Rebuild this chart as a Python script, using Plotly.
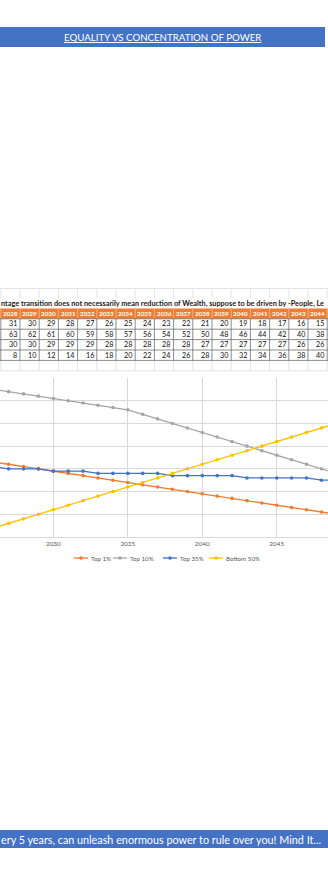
import plotly.graph_objects as go

W, H = 328, 870

# ---------------- data ----------------
table_years = [2028, 2029, 2030, 2031, 2032, 2033, 2034, 2035, 2036, 2037, 2038, 2039, 2040, 2041, 2042, 2043, 2044]
table_top1 = [31, 30, 29, 28, 27, 26, 25, 24, 23, 22, 21, 20, 19, 18, 17, 16, 15]
table_top10 = [63, 62, 61, 60, 59, 58, 57, 56, 54, 52, 50, 48, 46, 44, 42, 40, 38]
table_top35 = [30, 30, 29, 29, 29, 28, 28, 28, 28, 28, 27, 27, 27, 27, 27, 26, 26]
table_bottom50 = [8, 10, 12, 14, 16, 18, 20, 22, 24, 26, 28, 30, 32, 34, 36, 38, 40]

chart_years = [2026, 2027, 2028, 2029, 2030, 2031, 2032, 2033, 2034, 2035, 2036, 2037,
               2038, 2039, 2040, 2041, 2042, 2043, 2044, 2045, 2046, 2047, 2048, 2049]
top1 = [33, 32, 31, 30, 29, 28, 27, 26, 25, 24, 23, 22, 21, 20, 19, 18, 17, 16, 15, 14, 13, 12, 11, 10]
top10 = [65, 64, 63, 62, 61, 60, 59, 58, 57, 56, 54, 52, 50, 48, 46, 44, 42, 40, 38, 36, 34, 32, 30, 28]
top35 = [31, 30, 30, 30, 29, 29, 29, 28, 28, 28, 28, 28, 27, 27, 27, 27, 27, 26, 26, 26, 26, 26, 25, 25]
bottom50 = [4, 6, 8, 10, 12, 14, 16, 18, 20, 22, 24, 26, 28, 30, 32, 34, 36, 38, 40, 42, 44, 46, 48, 50]

series_names = ["Top 1%", "Top 10%", "Top 35%", "Bottom 50%"]
series_values = [top1, top10, top35, bottom50]
series_colors = ["#ED7D31", "#A5A5A5", "#4472C4", "#FFC000"]

title_text = "EQUALITY VS CONCENTRATION OF POWER"
table_note = "ntage transition does not necessarily mean reduction of Wealth, suppose to be driven by -People, Le"
footer_text = "ery 5 years, can unleash enormous power to rule over you! Mind It..."

FONT = "Lato"


def fx(x):
    return x / W


def fy(y):
    return 1 - y / H


fig = go.Figure()

# ---------------- chart ----------------
for name, vals, col in zip(series_names, series_values, series_colors):
    fig.add_trace(go.Scatter(
        x=chart_years, y=vals, name=name, mode="lines+markers",
        line=dict(color=col, width=1.3),
        marker=dict(color=col, size=3.6),
        cliponaxis=True,
    ))

plot_top, plot_bottom = 378, 537
fig.update_layout(
    width=W, height=H,
    margin=dict(l=0, r=0, t=0, b=0),
    paper_bgcolor="white", plot_bgcolor="white",
    showlegend=False,
    xaxis=dict(
        domain=[0, 1], range=[2026.42, 2048.44],
        tickvals=[2030, 2035, 2040, 2045], ticktext=["2030", "2035", "2040", "2045"],
        showgrid=True, gridcolor="#D9D9D9", gridwidth=1,
        showline=True, linecolor="#D9D9D9", linewidth=1,
        zeroline=False, ticks="",
        tickfont=dict(family=FONT, size=6.4, color="#595959"),
    ),
    yaxis=dict(
        domain=[fy(plot_bottom), fy(plot_top)], range=[0, 70], dtick=10,
        showgrid=True, gridcolor="#D9D9D9", gridwidth=1,
        showticklabels=False, zeroline=False, showline=False, ticks="",
    ),
)

shapes = []
annots = []

# ---------------- header bar ----------------
shapes.append(dict(type="rect", xref="paper", yref="paper", x0=fx(0), x1=fx(325), y0=fy(47), y1=fy(27),
                   fillcolor="#4472C4", line=dict(width=0), layer="above"))
annots.append(dict(xref="paper", yref="paper", x=fx(163), y=fy(37), text="<u>" + title_text + "</u>",
                   showarrow=False, xanchor="center", yanchor="middle",
                   font=dict(family=FONT, size=9.7, color="white")))

# ---------------- footer bar ----------------
shapes.append(dict(type="rect", xref="paper", yref="paper", x0=fx(0), x1=fx(328), y0=fy(848), y1=fy(830),
                   fillcolor="#4472C4", line=dict(width=0), layer="above"))
annots.append(dict(xref="paper", yref="paper", x=fx(0), y=fy(839), text=footer_text,
                   showarrow=False, xanchor="left", yanchor="middle", borderpad=0,
                   font=dict(family=FONT, size=10.8, color="white")))

# ---------------- table ----------------
col_x0, col_w = 0.8, 19.2
ncol = len(table_years)
faint_top, note_top, head_top, row_h = 288.5, 298.3, 308.4, 10.4

# faint excel grid rows
shapes.append(dict(type="line", xref="paper", yref="paper", x0=0, x1=1, y0=fy(faint_top), y1=fy(faint_top),
                   line=dict(color="#E3E3E3", width=1)))
for i in range(ncol + 1):
    xx = col_x0 + i * col_w
    shapes.append(dict(type="line", xref="paper", yref="paper", x0=fx(xx), x1=fx(xx), y0=fy(faint_top), y1=fy(note_top),
                       line=dict(color="#E3E3E3", width=1)))
    shapes.append(dict(type="line", xref="paper", yref="paper", x0=fx(xx), x1=fx(xx),
                       y0=fy(head_top + 5 * row_h), y1=fy(head_top + 6 * row_h),
                       line=dict(color="#E3E3E3", width=1)))
shapes.append(dict(type="line", xref="paper", yref="paper", x0=0, x1=1,
                   y0=fy(head_top + 6 * row_h), y1=fy(head_top + 6 * row_h),
                   line=dict(color="#E3E3E3", width=1)))

annots.append(dict(xref="paper", yref="paper", x=fx(0), y=fy((note_top + head_top) / 2 + 0.3), text="<b>" + table_note + "</b>",
                   showarrow=False, xanchor="left", yanchor="middle", borderpad=0,
                   font=dict(family=FONT, size=7.3, color="#1A1A1A")))

# header row
shapes.append(dict(type="rect", xref="paper", yref="paper", x0=0, x1=1, y0=fy(head_top + row_h), y1=fy(head_top),
                   fillcolor="#ED7D31", line=dict(width=0)))
for i, yr in enumerate(table_years):
    cx = col_x0 + (i + 0.5) * col_w
    annots.append(dict(xref="paper", yref="paper", x=fx(cx), y=fy(head_top + row_h / 2), text="<b>%d</b>" % yr,
                       showarrow=False, xanchor="center", yanchor="middle",
                       font=dict(family=FONT, size=6.3, color="white")))
for i in range(ncol + 1):
    xx = col_x0 + i * col_w
    shapes.append(dict(type="line", xref="paper", yref="paper", x0=fx(xx), x1=fx(xx),
                       y0=fy(head_top), y1=fy(head_top + row_h),
                       line=dict(color="#F4B183", width=1)))

rows = [table_top1, table_top10, table_top35, table_bottom50]
for r, vals in enumerate(rows):
    ytop = head_top + (r + 1) * row_h
    for i, v in enumerate(vals):
        xr = col_x0 + (i + 1) * col_w - 2.2
        annots.append(dict(xref="paper", yref="paper", x=fx(xr), y=fy(ytop + row_h / 2), text=str(v),
                           showarrow=False, xanchor="right", yanchor="middle", borderpad=0,
                           font=dict(family=FONT, size=7.2, color="#111111")))
for r in range(5):
    yy = head_top + (r + 1) * row_h
    shapes.append(dict(type="line", xref="paper", yref="paper", x0=0, x1=1, y0=fy(yy), y1=fy(yy),
                       line=dict(color="#6E6E6E", width=0.8)))
for i in range(ncol + 1):
    xx = col_x0 + i * col_w
    shapes.append(dict(type="line", xref="paper", yref="paper", x0=fx(xx), x1=fx(xx),
                       y0=fy(head_top + row_h), y1=fy(head_top + 5 * row_h),
                       line=dict(color="#6E6E6E", width=0.8)))

# ---------------- legend ----------------
leg_y = 558
leg_line_x = [74, 113, 163, 209]
for name, col, lx in zip(series_names, series_colors, leg_line_x):
    shapes.append(dict(type="line", xref="paper", yref="paper", x0=fx(lx), x1=fx(lx + 14), y0=fy(leg_y), y1=fy(leg_y),
                       line=dict(color=col, width=1.3)))
    cxm = lx + 7
    shapes.append(dict(type="circle", xref="paper", yref="paper", x0=fx(cxm - 1.8), x1=fx(cxm + 1.8),
                       y0=fy(leg_y + 1.8), y1=fy(leg_y - 1.8), fillcolor=col, line=dict(width=0)))
    annots.append(dict(xref="paper", yref="paper", x=fx(lx + 15.5), y=fy(leg_y), text=name,
                       showarrow=False, xanchor="left", yanchor="middle", borderpad=0,
                       font=dict(family=FONT, size=6.2, color="#595959")))

fig.update_layout(shapes=shapes, annotations=annots)
fig.write_html("out.html")
